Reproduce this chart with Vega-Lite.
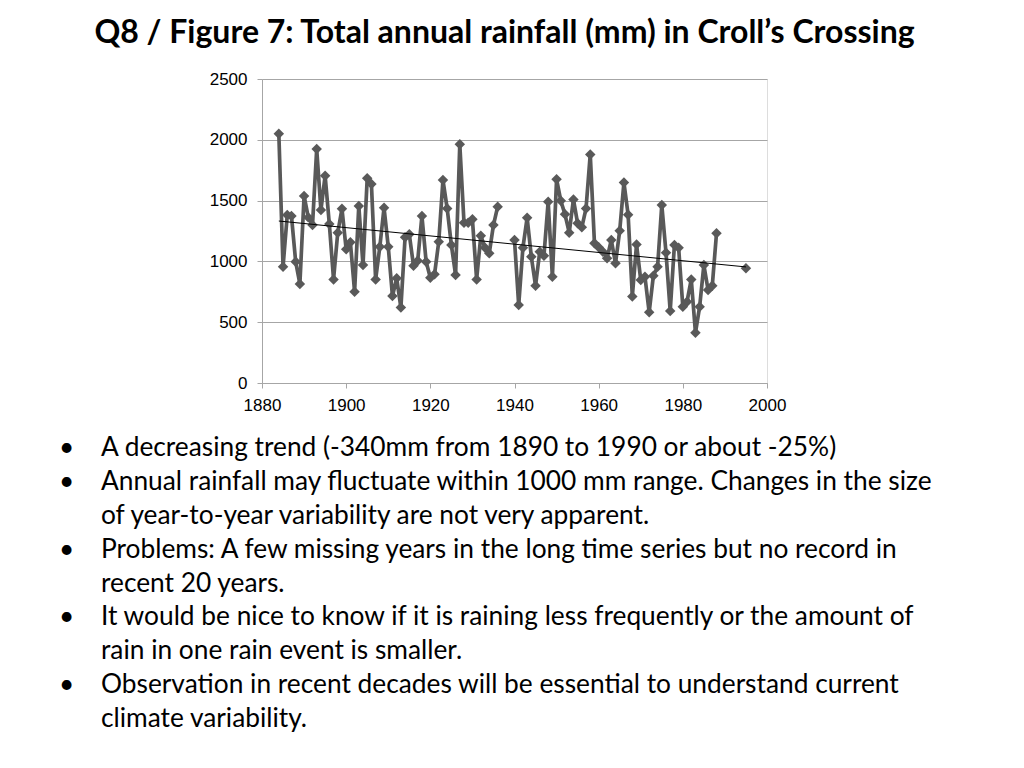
{
  "$schema": "https://vega.github.io/schema/vega-lite/v6.json",
  "width": 505,
  "height": 304,
  "autosize": {"type": "none"},
  "padding": {"left": 262, "top": 79, "right": 257, "bottom": 385},
  "background": "white",
  "title": {
    "text": "Q8 / Figure 7: Total annual rainfall (mm) in Croll’s Crossing",
    "font": "Lato",
    "fontSize": 32,
    "fontWeight": "bold",
    "color": "#000000",
    "frame": "group",
    "anchor": "middle",
    "baseline": "alphabetic",
    "offset": -5,
    "dx": -10
  },
  "datasets": {
    "rain": [
      {"year": 1884, "rain": 2050}, {"year": 1885, "rain": 956}, {"year": 1886, "rain": 1381},
      {"year": 1887, "rain": 1373}, {"year": 1888, "rain": 998}, {"year": 1889, "rain": 814},
      {"year": 1890, "rain": 1538}, {"year": 1891, "rain": 1362}, {"year": 1892, "rain": 1299},
      {"year": 1893, "rain": 1924}, {"year": 1894, "rain": 1423}, {"year": 1895, "rain": 1705},
      {"year": 1896, "rain": 1307}, {"year": 1897, "rain": 852}, {"year": 1898, "rain": 1236},
      {"year": 1899, "rain": 1433}, {"year": 1900, "rain": 1099}, {"year": 1901, "rain": 1157},
      {"year": 1902, "rain": 751}, {"year": 1903, "rain": 1456}, {"year": 1904, "rain": 970},
      {"year": 1905, "rain": 1683}, {"year": 1906, "rain": 1636}, {"year": 1907, "rain": 852},
      {"year": 1908, "rain": 1121}, {"year": 1909, "rain": 1442}, {"year": 1910, "rain": 1121},
      {"year": 1911, "rain": 715}, {"year": 1912, "rain": 861}, {"year": 1913, "rain": 620},
      {"year": 1914, "rain": 1198}, {"year": 1915, "rain": 1223}, {"year": 1916, "rain": 965},
      {"year": 1917, "rain": 1006}, {"year": 1918, "rain": 1373}, {"year": 1919, "rain": 998},
      {"year": 1920, "rain": 866}, {"year": 1921, "rain": 894}, {"year": 1922, "rain": 1162},
      {"year": 1923, "rain": 1669}, {"year": 1924, "rain": 1436}, {"year": 1925, "rain": 1135},
      {"year": 1926, "rain": 888}, {"year": 1927, "rain": 1963}, {"year": 1928, "rain": 1318},
      {"year": 1929, "rain": 1318}, {"year": 1930, "rain": 1346}, {"year": 1931, "rain": 852},
      {"year": 1932, "rain": 1211}, {"year": 1933, "rain": 1113}, {"year": 1934, "rain": 1066},
      {"year": 1935, "rain": 1299}, {"year": 1936, "rain": 1450}, {"year": 1937, "rain": null},
      {"year": 1938, "rain": null}, {"year": 1939, "rain": null}, {"year": 1940, "rain": 1176},
      {"year": 1941, "rain": 641}, {"year": 1942, "rain": 1113}, {"year": 1943, "rain": 1359},
      {"year": 1944, "rain": 1039}, {"year": 1945, "rain": 800}, {"year": 1946, "rain": 1080},
      {"year": 1947, "rain": 1047}, {"year": 1948, "rain": 1491}, {"year": 1949, "rain": 874},
      {"year": 1950, "rain": 1675}, {"year": 1951, "rain": 1499}, {"year": 1952, "rain": 1387},
      {"year": 1953, "rain": 1236}, {"year": 1954, "rain": 1510}, {"year": 1955, "rain": 1313},
      {"year": 1956, "rain": 1280}, {"year": 1957, "rain": 1436}, {"year": 1958, "rain": 1880},
      {"year": 1959, "rain": 1149}, {"year": 1960, "rain": 1116}, {"year": 1961, "rain": 1080},
      {"year": 1962, "rain": 1025}, {"year": 1963, "rain": 1176}, {"year": 1964, "rain": 984},
      {"year": 1965, "rain": 1252}, {"year": 1966, "rain": 1648}, {"year": 1967, "rain": 1384},
      {"year": 1968, "rain": 712}, {"year": 1969, "rain": 1140}, {"year": 1970, "rain": 847},
      {"year": 1971, "rain": 874}, {"year": 1972, "rain": 581}, {"year": 1973, "rain": 882},
      {"year": 1974, "rain": 956}, {"year": 1975, "rain": 1464}, {"year": 1976, "rain": 1072},
      {"year": 1977, "rain": 592}, {"year": 1978, "rain": 1135}, {"year": 1979, "rain": 1113},
      {"year": 1980, "rain": 628}, {"year": 1981, "rain": 669}, {"year": 1982, "rain": 852},
      {"year": 1983, "rain": 414}, {"year": 1984, "rain": 628}, {"year": 1985, "rain": 970},
      {"year": 1986, "rain": 765}, {"year": 1987, "rain": 800}, {"year": 1988, "rain": 1231},
      {"year": 1989, "rain": null}, {"year": 1990, "rain": null}, {"year": 1991, "rain": null},
      {"year": 1992, "rain": null}, {"year": 1993, "rain": null}, {"year": 1994, "rain": null},
      {"year": 1995, "rain": 943}
    ],
    "notes": [
      {"line": 1, "col": "bullet", "label": "•"},
      {"line": 1, "col": "text", "label": "A decreasing trend (-340mm from 1890 to 1990 or about -25%)"},
      {"line": 2, "col": "bullet", "label": "•"},
      {"line": 2, "col": "text", "label": "Annual rainfall may fluctuate within 1000 mm range. Changes in the size"},
      {"line": 3, "col": "text", "label": "of year-to-year variability are not very apparent."},
      {"line": 4, "col": "bullet", "label": "•"},
      {"line": 4, "col": "text", "label": "Problems: A few missing years in the long time series but no record in"},
      {"line": 5, "col": "text", "label": "recent 20 years."},
      {"line": 6, "col": "bullet", "label": "•"},
      {"line": 6, "col": "text", "label": "It would be nice to know if it is raining less frequently or the amount of"},
      {"line": 7, "col": "text", "label": "rain in one rain event is smaller."},
      {"line": 8, "col": "bullet", "label": "•"},
      {"line": 8, "col": "text", "label": "Observation in recent decades will be essential to understand current"},
      {"line": 9, "col": "text", "label": "climate variability."}
    ]
  },
  "layer": [
    {
      "data": {"name": "rain"},
      "encoding": {
        "x": {
          "field": "year", "type": "quantitative",
          "scale": {"domain": [1880, 2000], "nice": false, "zero": false},
          "axis": {
            "title": null, "values": [1880, 1900, 1920, 1940, 1960, 1980, 2000], "format": "d",
            "grid": false, "labelFlush": false, "labelOverlap": false,
            "labelFont": "Liberation Sans", "labelFontSize": 17, "labelColor": "#000000",
            "labelPadding": 9, "tickSize": 5, "tickColor": "#a6a6a6", "domainColor": "#a6a6a6",
            "tickWidth": 1, "domainWidth": 1
          }
        },
        "y": {
          "field": "rain", "type": "quantitative",
          "scale": {"domain": [0, 2500], "nice": false},
          "axis": {
            "title": null, "values": [0, 500, 1000, 1500, 2000, 2500], "format": "d",
            "grid": true, "gridColor": "#a6a6a6", "gridWidth": 1,
            "labelFont": "Liberation Sans", "labelFontSize": 17, "labelColor": "#000000",
            "labelPadding": 10, "tickSize": 5, "tickColor": "#a6a6a6", "domainColor": "#a6a6a6",
            "tickWidth": 1, "domainWidth": 1
          }
        }
      },
      "layer": [
        {"mark": {"type": "line", "color": "#595959", "strokeWidth": 3.7, "strokeJoin": "round"}},
        {"mark": {"type": "point", "shape": "diamond", "filled": true, "size": 110, "color": "#595959", "opacity": 1}},
        {
          "transform": [
            {"filter": "datum.rain != null"},
            {"regression": "rain", "on": "year", "method": "linear", "extent": [1884, 1995]}
          ],
          "mark": {"type": "line", "color": "#000000", "strokeWidth": 1}
        }
      ]
    },
    {
      "data": {"name": "notes"},
      "mark": {"type": "text", "align": "left", "baseline": "alphabetic", "font": "Lato", "fontSize": 26.3, "color": "#000000"},
      "encoding": {
        "x": {"field": "col", "type": "nominal", "scale": {"type": "point", "domain": ["bullet", "text"], "range": [-203, -161], "padding": 0}, "axis": null},
        "y": {"field": "line", "type": "ordinal", "scale": {"type": "point", "domain": [1, 2, 3, 4, 5, 6, 7, 8, 9], "range": [377, 648], "padding": 0}, "axis": null},
        "text": {"field": "label"}
      }
    }
  ],
  "resolve": {"scale": {"x": "independent", "y": "independent"}}
}
